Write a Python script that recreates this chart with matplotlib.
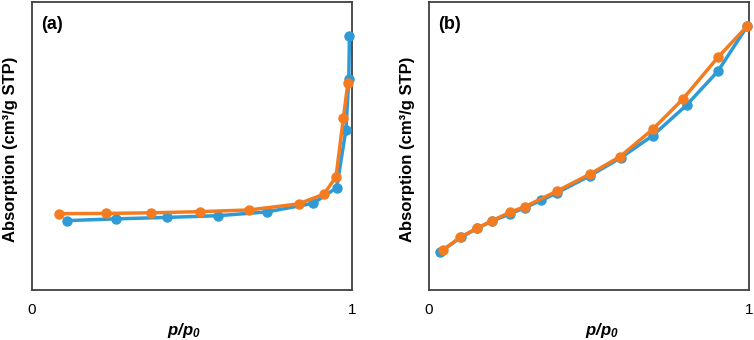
import matplotlib
matplotlib.use("Agg")
import matplotlib.pyplot as plt

plt.rcParams['font.family'] = ['Liberation Sans', 'DejaVu Sans']
plt.rcParams['mathtext.fontset'] = 'custom'
plt.rcParams['mathtext.it'] = 'Liberation Sans:italic:bold'
plt.rcParams['mathtext.rm'] = 'Liberation Sans:italic:bold'
plt.rcParams['mathtext.bf'] = 'Liberation Sans:italic:bold'

# panel (a)
a_orange_x = [0.085, 0.231, 0.371, 0.525, 0.679, 0.833, 0.9125, 0.95, 0.973, 0.987]
a_orange_y = [26.5, 26.6, 26.8, 27.2, 27.8, 29.9, 33.3, 39.3, 59.6, 71.8]
a_blue_x = [0.110, 0.2625, 0.421, 0.582, 0.733, 0.879, 0.952, 0.981, 0.990, 0.992]
a_blue_y = [24.1, 24.7, 25.2, 25.8, 27.1, 30.1, 35.5, 55.6, 73.2, 88.3]

# panel (b)
b_orange_x = [0.044, 0.097, 0.151, 0.196, 0.253, 0.299, 0.401, 0.502, 0.597, 0.699, 0.7925, 0.903, 0.995]
b_orange_y = [13.9, 18.3, 21.5, 24.0, 27.0, 28.9, 34.4, 40.2, 46.3, 55.8, 66.2, 80.8, 91.7]
b_blue_x = [0.034, 0.100, 0.151, 0.196, 0.253, 0.299, 0.351, 0.401, 0.502, 0.599, 0.699, 0.805, 0.903, 0.995]
b_blue_y = [13.1, 18.3, 21.4, 23.9, 26.4, 28.6, 31.1, 33.8, 39.6, 45.9, 53.6, 64.2, 76.0, 91.7]

blue = '#2E9BD6'
orange = '#F47B20'

fig = plt.figure(figsize=(7.54, 3.40), dpi=100)
ax1 = fig.add_axes([32/754, 50/340, 320/754, 288/340])
ax2 = fig.add_axes([429/754, 50/340, 320/754, 288/340])

panels = [
    (ax1, '(a)', a_blue_x, a_blue_y, a_orange_x, a_orange_y, 0.475),
    (ax2, '(b)', b_blue_x, b_blue_y, b_orange_x, b_orange_y, 0.54),
]

for ax, tag, bx, by, ox, oy, xl in panels:
    ax.plot(bx, by, '-o', color=blue, lw=2.5, ms=6.5, clip_on=False, zorder=3)
    ax.plot(ox, oy, '-o', color=orange, lw=2.5, ms=6.5, clip_on=False, zorder=4)
    ax.set_xlim(0, 1)
    ax.set_ylim(0, 100)
    ax.set_xticks([0, 1])
    ax.set_xticklabels(['0', '1'])
    ax.set_yticks([])
    ax.tick_params(axis='x', length=0, pad=9, labelsize=11)
    for s in ax.spines.values():
        s.set_color('#404040')
        s.set_linewidth(1.3)
    ax.set_ylabel('Absorption (cm³/g STP)', fontsize=12, fontweight='bold')
    ax.yaxis.set_label_coords(-0.045, 0.49)
    ax.set_xlabel(r'$p/p_0$', fontsize=12)
    ax.xaxis.set_label_coords(xl, -0.108)
    ax.text(0.03, 0.95, tag, transform=ax.transAxes, fontsize=13, fontweight='bold',
            va='top', ha='left')

fig.savefig('out.png', dpi=100)
